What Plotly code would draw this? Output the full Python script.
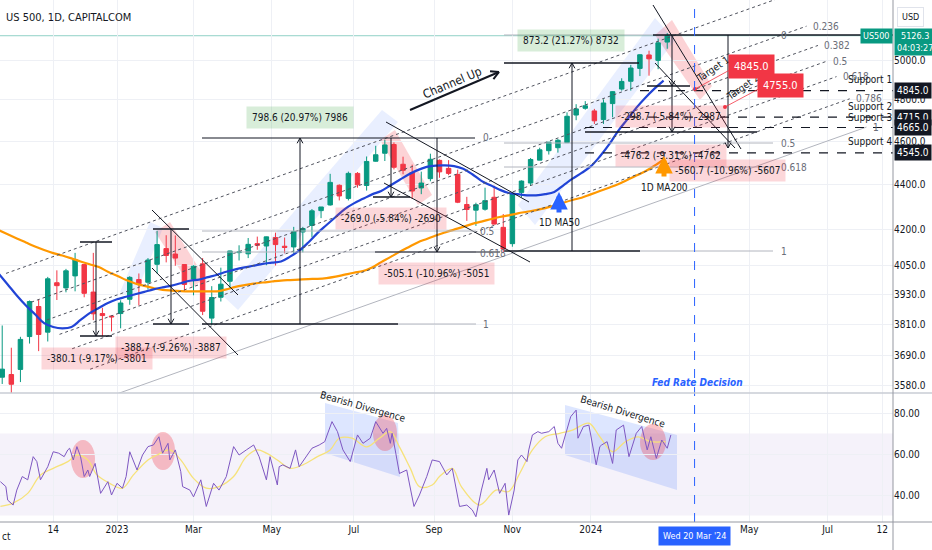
import math
import numpy as np
import pandas as pd
import plotly.graph_objects as go

FONT = "DejaVu Sans Condensed, Liberation Sans Narrow, Roboto Condensed, Liberation Sans, sans-serif"

# ---------------- data ----------------
week_start = pd.date_range("2022-10-03", "2024-02-26", freq="W-MON")  # weekly bars
opens = [3609, 3619, 3638, 3763, 3881, 3780, 3977, 3956, 4005, 4052, 3939, 3853, 3843, 3853, 3910, 3990, 3979, 4053, 4119, 4096,
         4052, 3992, 4055, 3835, 3918, 3983, 4102, 4097, 4140, 4130, 4166, 4129, 4126, 4190, 4218, 4283, 4308, 4396, 4337, 4450,
         4395, 4506, 4543, 4584, 4492, 4454, 4384, 4426, 4510, 4473, 4445, 4310, 4285, 4289, 4342, 4210, 4140, 4364, 4406, 4511,
         4555, 4569, 4593, 4725, 4758, 4745, 4703, 4781, 4853, 4892, 4957, 5026, 4998, 5093]
highs = [3806, 3720, 3762, 3905, 3911, 4001, 4028, 4034, 4101, 4052, 4101, 3876, 3846, 3906, 4004, 4015, 4079, 4195, 4176, 4175,
         4053, 4049, 4079, 3963, 4039, 4110, 4133, 4164, 4170, 4170, 4187, 4166, 4212, 4212, 4290, 4299, 4448, 4400, 4458, 4456,
         4528, 4578, 4607, 4594, 4527, 4490, 4458, 4541, 4514, 4511, 4467, 4344, 4318, 4385, 4394, 4268, 4366, 4418, 4521, 4569,
         4595, 4610, 4738, 4778, 4793, 4755, 4802, 4842, 4907, 4975, 5030, 5048, 5111, 5140]
lows = [3584, 3491, 3591, 3736, 3707, 3744, 3907, 3938, 3942, 3918, 3827, 3764, 3783, 3795, 3888, 3885, 3949, 4015, 4061, 4047,
        3944, 3926, 3847, 3808, 3901, 3952, 4069, 4079, 4114, 4049, 4048, 4099, 4098, 4103, 4167, 4250, 4305, 4328, 4328, 4385,
        4372, 4504, 4507, 4468, 4446, 4335, 4356, 4414, 4430, 4442, 4316, 4238, 4216, 4283, 4223, 4104, 4127, 4342, 4393, 4511,
        4537, 4546, 4591, 4700, 4751, 4682, 4682, 4714, 4845, 4845, 4918, 4920, 4953, 5058]
closes = [3639, 3583, 3752, 3901, 3771, 3993, 3965, 4026, 4072, 3934, 3852, 3845, 3840, 3895, 3999, 3973, 4071, 4136, 4090, 4079,
          3970, 4045, 3862, 3917, 3971, 4109, 4105, 4137, 4133, 4169, 4136, 4124, 4192, 4205, 4282, 4299, 4409, 4348, 4450, 4398,
          4505, 4536, 4582, 4478, 4464, 4370, 4406, 4515, 4457, 4450, 4320, 4288, 4309, 4327, 4224, 4117, 4358, 4415, 4514, 4559,
          4595, 4604, 4719, 4755, 4770, 4697, 4784, 4840, 4891, 4959, 5027, 5006, 5089, 5126]
ma50 = [4015, 3970, 3925, 3885, 3850, 3815, 3800, 3795, 3800, 3828, 3855, 3875, 3895, 3910, 3920, 3930, 3940, 3950, 3958, 3965,
        3975, 3985, 3990, 4000, 4010, 4022, 4032, 4040, 4047, 4055, 4060, 4065, 4085, 4110, 4145, 4185, 4220, 4255, 4290, 4315,
        4335, 4355, 4370, 4395, 4420, 4445, 4465, 4480, 4486, 4487, 4483, 4471, 4446, 4416, 4396, 4376, 4361, 4356, 4351, 4351,
        4356, 4366, 4396, 4426, 4452, 4482, 4528, 4583, 4648, 4703, 4760, 4810, 4855, 4895]
ma200 = [4198, 4180, 4162, 4145, 4128, 4113, 4100, 4090, 4078, 4065, 4053, 4042, 4022, 4006, 3988, 3974, 3964, 3955, 3948, 3945,
         3943, 3942, 3942, 3942, 3942, 3950, 3960, 3967, 3973, 3978, 3982, 3986, 3988, 3990, 3992, 3993, 3996, 4002, 4010, 4018,
         4025, 4040, 4062, 4083, 4105, 4125, 4145, 4160, 4175, 4188, 4200, 4212, 4225, 4235, 4245, 4255, 4262, 4271, 4278, 4285,
         4294, 4305, 4318, 4330, 4340, 4355, 4370, 4385, 4401, 4420, 4440, 4460, 4485, 4515]

# RSI(14): trading-day index since 3 Oct 2022, value
rsi_day = [1, 4, 5, 8, 10, 13, 16, 19, 21, 23, 27, 30, 33, 36, 38, 39, 41, 43, 45, 47, 49, 50, 53, 56, 60, 62, 65, 68, 70, 72,
           76, 79, 82, 85, 88, 90, 93, 94, 97, 100, 101, 105, 107, 111, 114, 118, 121, 125, 129, 132, 136, 140, 143, 147, 149,
           153, 154, 156, 160, 163, 165, 169, 172, 176, 179, 183, 186, 189, 193, 197, 200, 204, 207, 211, 213, 215, 216, 218,
           220, 224, 228, 231, 235, 238, 242, 246, 249, 253, 257, 260, 262, 265, 268, 269, 272, 275, 278, 280, 283, 285, 287,
           290, 291, 293, 296, 298, 302, 305, 307, 309, 311, 314, 317, 318, 321, 324, 328, 330, 331, 334, 337, 339, 343, 346,
           350, 353, 356, 358, 361, 364, 367, 369]
rsi_val = [46.5, 44.1, 37.5, 35.1, 42.4, 49.0, 47.4, 58.7, 56.3, 47.4, 53.8, 61.1, 60.4, 58.7, 62.0, 62.8, 57.1, 63.6, 58.7, 49.0,
           52.2, 49.0, 55.4, 40.8, 46.5, 40.0, 45.7, 43.3, 49.0, 61.1, 52.2, 59.5, 63.6, 64.4, 68.4, 60.4, 65.2, 57.1, 62.0, 51.4,
           44.1, 42.4, 39.1, 47.4, 34.4, 45.7, 42.4, 49.0, 63.6, 59.5, 62.0, 64.4, 58.7, 47.4, 58.7, 44.9, 53.8, 54.7, 53.0, 62.0,
           53.8, 58.7, 62.8, 64.4, 66.0, 75.8, 70.9, 62.0, 56.3, 69.3, 65.2, 67.7, 75.8, 70.1, 72.5, 65.2, 70.1, 60.4, 50.5, 52.2,
           34.4, 40.0, 49.0, 57.1, 56.3, 49.8, 53.0, 34.4, 35.1, 32.7, 29.4, 42.4, 53.0, 47.4, 52.2, 40.8, 45.7, 30.2, 42.4, 57.1,
           59.5, 56.3, 62.0, 69.3, 70.9, 70.1, 70.9, 73.4, 65.2, 62.8, 69.3, 78.2, 81.4, 67.7, 73.4, 74.1, 54.7, 63.6, 64.4, 66.0,
           55.4, 71.7, 74.1, 58.7, 70.1, 73.4, 62.0, 68.4, 57.9, 66.8, 62.8, 69.3]
rsi_ma_day = [1, 8, 16, 23, 30, 38, 43, 49, 54, 61, 68, 74, 82, 87, 94, 100, 107, 114, 121, 129, 136, 142, 147, 153, 160, 167,
              175, 182, 187, 194, 202, 209, 215, 220, 226, 231, 238, 242, 249, 254, 264, 273, 280, 286, 293, 300, 308, 315, 324,
              330, 337, 344, 351, 358, 366]
rsi_ma_val = [34.4, 36.0, 40.8, 49.8, 53.0, 56.3, 59.5, 57.1, 49.8, 45.7, 43.3, 49.8, 57.1, 59.5, 62.0, 57.1, 48.1, 43.3, 44.1,
              49.0, 58.7, 62.0, 60.4, 57.1, 53.0, 54.7, 58.7, 62.0, 67.7, 67.7, 63.5, 67.7, 70.9, 63.5, 53.0, 44.1, 44.9, 49.0,
              53.0, 44.1, 35.1, 42.4, 41.7, 50.5, 62.0, 68.4, 70.1, 71.7, 75.0, 68.4, 61.1, 66.0, 68.4, 66.0, 66.0]

price_ticks = [3580, 3690, 3810, 3930, 4050, 4200, 4400, 4600, 4800, 5000]
rsi_ticks = [40, 60, 80]
x_tick_dates = ["2022-11-14", "2023-01-02", "2023-03-01", "2023-05-01", "2023-07-03", "2023-09-01", "2023-11-01",
                "2024-01-01", "2024-05-01", "2024-07-01", "2024-08-12"]
x_tick_text = ["14", "2023", "Mar", "May", "Jul", "Sep", "Nov", "2024", "May", "Jul", "12"]
support_levels = [4845.0, 4715.0, 4665.0, 4545.0]
last_price = 5126.3

ORIGIN = "2022-10-03"
def day_index(d):
    return int(np.busday_count(ORIGIN, np.datetime64(str(d)[:10], "D")))

week_idx = [day_index(d) for d in week_start]
candle_x = [i + 2 for i in week_idx]
tick_idx = [day_index(d) for d in x_tick_dates]
fed_idx = day_index("2024-03-20")

# ---------------- helpers: drawing positions (pixel reads -> data space) ----------------
def X(px): return 65 + (px - 117) / 1.822
def P(py): return 5000 * math.exp(-(py - 60) / 973)
def R(py): return 80 - (py - 413) / 2.05
def LY(py): return math.log10(P(py))

PLOT_H = 522.0
PANE_SPLIT = 393.0
shapes, annos = [], []

def yv(py, pane):
    return P(py) if pane == "p" else R(py)

def seg(x0, y0, x1, y1, color="#131722", width=1, dash="solid", pane="p", layer="above"):
    shapes.append(dict(type="line", xref="x", yref="y" if pane == "p" else "y2",
                       x0=X(x0), y0=yv(y0, pane), x1=X(x1), y1=yv(y1, pane),
                       line=dict(color=color, width=width, dash=dash), layer=layer))

def chevron(x, y, dx, dy, size=6, color="#131722", width=1, pane="p"):
    n = math.hypot(dx, dy); ux, uy = dx / n, dy / n
    for a in (0.5, -0.5):
        ca, sa = math.cos(a), math.sin(a)
        bx = -(ux * ca - uy * sa); by = -(ux * sa + uy * ca)
        seg(x, y, x + bx * size, y + by * size, color=color, width=width, pane=pane)

def poly(pts, fill, pane="p", layer="below"):
    path = "M " + " L ".join(f"{X(a)},{yv(b, pane)}" for a, b in pts) + " Z"
    shapes.append(dict(type="path", xref="x", yref="y" if pane == "p" else "y2", path=path,
                       fillcolor=fill, line=dict(width=0), layer=layer))

def ellipse(cx, cy, rx, ry, fill, pane="p", layer="below"):
    shapes.append(dict(type="circle", xref="x", yref="y" if pane == "p" else "y2",
                       x0=X(cx - rx), x1=X(cx + rx), y0=yv(cy + ry, pane), y1=yv(cy - ry, pane),
                       fillcolor=fill, line=dict(width=0), layer=layer))

def text(px, py, t, size=10, color="#131722", bg=None, pane="p", angle=0, xanchor="center", pad=1, bold=False):
    if bold:
        t = "<b>" + t + "</b>"
    annos.append(dict(x=X(px), y=(LY(py) if pane == "p" else R(py)), xref="x", yref="y" if pane == "p" else "y2",
                      text=t, showarrow=False, textangle=angle, xanchor=xanchor, yanchor="middle",
                      font=dict(size=size, color=color, family=FONT),
                      bgcolor=bg if bg else "rgba(0,0,0,0)", borderpad=pad))

DARK = "#131722"
GRAYL = "#b2b5be"
LBL = "#6a6d78"
PINK = "rgba(242,54,69,0.20)"
GREEN = "rgba(76,175,80,0.22)"
HL_PINK = "rgba(242,54,69,0.22)"
HL_BLUE = "rgba(41,98,255,0.10)"

# ---- highlighter strokes on price ----
poly([(155, 232), (170, 222), (205, 278), (192, 288)], HL_PINK)
poly([(380, 140), (395, 130), (432, 195), (418, 205)], HL_PINK)
poly([(655, 35), (672, 20), (712, 86), (700, 100)], HL_PINK)
poly([(120, 292), (150, 222), (163, 228), (134, 298)], HL_BLUE)
poly([(222, 295), (382, 110), (398, 122), (238, 310)], HL_BLUE)
poly([(518, 205), (655, 18), (675, 40), (535, 225)], HL_BLUE)

# ---- fib channel (parallel rising lines) ----
ch_levels = [0, 0.236, 0.382, 0.5, 0.618, 0.786, 1]
def ch_y(L, px): return 26 + 160 * (L - 0.236) + 0.356 * (807 - px)
for L in ch_levels:
    xs, xe = 6 + 107 * L, 788 + 78.5 * L
    if L == 1:
        seg(xs, ch_y(L, xs), xe, ch_y(L, xe), color=GRAYL, width=1)
    else:
        seg(xs, ch_y(L, xs), xe, ch_y(L, xe), color="#50535e", width=1, dash="dot")
    if L > 0:
        text(xe + 4, ch_y(L, xe), ("%g" % L), size=10, color=LBL, xanchor="left")

# ---- falling channel lines ----
for (a, b, c, d) in [(152, 210, 238, 295), (152, 268, 238, 355), (386, 122, 529, 202), (384, 183, 530, 262),
                     (653, 5, 741, 149), (655, 63, 735, 148)]:
    seg(a, b, c, d, color=DARK, width=1)

# ---- fib retracement 2023 ----
seg(202, 138, 475, 138, color=DARK, width=1.2)
seg(202, 231, 476, 231, color=GRAYL)
seg(202, 252, 476, 252, color=GRAYL)
seg(375, 252, 500, 252, color=DARK)
seg(202, 324, 398, 324, color=DARK, width=1.5)
seg(398, 324, 476, 324, color=GRAYL)
text(481, 137, "0", color=LBL, xanchor="left")
text(478, 231, "0.5", color=LBL, xanchor="left")
text(478, 253, "0.618", color=LBL, xanchor="left")
text(481, 324, "1", color=LBL, xanchor="left")

# ---- fib retracement 2023-24 ----
seg(504, 35, 653, 35, color=GRAYL)
seg(653, 35, 893, 35, color=DARK, width=1.5)
seg(504, 143, 773, 143, color=GRAYL)
seg(504, 167, 773, 167, color=GRAYL)
seg(504, 251, 640, 251, color=DARK, width=1.5)
seg(640, 251, 773, 251, color=GRAYL)
text(779, 35, "0", color=LBL, xanchor="left")
text(779, 143, "0.5", color=LBL, xanchor="left")
text(779, 167, "0.618", color=LBL, xanchor="left")
text(779, 251, "1", color=LBL, xanchor="left")

# ---- price range measures ----
seg(80, 242, 112, 242, width=1.5); seg(80, 336, 112, 336, width=1.5); seg(96, 242, 96, 336); chevron(96, 336, 0, 1)
seg(153, 229, 189, 229, width=1.5); seg(153, 324, 189, 324, width=1.5); seg(171, 229, 171, 324); chevron(171, 324, 0, 1)
seg(300, 324, 300, 138); chevron(300, 138, 0, -1)
seg(373, 197, 410, 197, width=1.5); seg(391, 138, 391, 197); chevron(391, 197, 0, 1)
seg(437, 138, 437, 252); chevron(437, 252, 0, 1)
seg(504, 63, 639, 63, width=1.5); seg(572, 251, 572, 63); chevron(572, 63, 0, -1)
seg(647, 86, 690, 86, width=1.5); seg(585, 132, 757, 132, width=1.5); seg(672, 35, 672, 132)
chevron(672, 86, 0, 1); chevron(672, 132, 0, 1)
seg(728, 35, 728, 148); chevron(728, 148, 0, 1)

text(97, 358, "-380.1 (-9.17%) -3801", size=10, bg=PINK, pad=5)
text(171, 347, "-388.7 (-9.26%) -3887", size=10, bg=PINK, pad=5)
text(300, 117, "798.6 (20.97%) 7986", size=10, bg=GREEN, pad=5)
text(391, 218, "-269.0 (-5.84%) -2690", size=10, bg=PINK, pad=5)
text(436, 273, "-505.1 (-10.96%) -5051", size=10, bg=PINK, pad=5)
text(571, 40, "873.2 (21.27%) 8732", size=10, bg=GREEN, pad=5)
text(671, 116, "-298.7 (-5.84%) -2987", size=10, bg=PINK, pad=5)
text(671, 155, "-476.2 (-9.31%) -4762", size=10, bg=PINK, pad=5)
text(727, 170, "-560.7 (-10.96%) -5607", size=10, bg=PINK, pad=5)

# ---- supports ----
for lvl, x0 in zip(support_levels, [640, 630, 585, 585]):
    shapes.append(dict(type="line", xref="x", yref="y", x0=X(x0), x1=X(893), y0=lvl, y1=lvl,
                       line=dict(color=DARK, width=1.2, dash="dash"), layer="above"))
for i, py in enumerate([79, 106, 117, 141]):
    text(870, py, "Support %d" % (i + 1), size=10, color=DARK)

# ---- targets ----
seg(695, 89, 737, 66, color="rgba(242,54,69,0.8)")
seg(725, 107, 766, 85, color="rgba(242,54,69,0.8)")
ellipse(695, 89, 2, 2, "#f23645", layer="above")
ellipse(725, 107, 2, 2, "#f23645", layer="above")
text(712, 69, "Target 1", size=10, angle=-34)
text(742, 87, "Target 2", size=10, angle=-35)
text(751, 66, "4845.0", size=11, color="white", bg="#f23645", pad=5)
text(780, 85, "4755.0", size=11, color="white", bg="#f23645", pad=5)

# ---- channel up label + arrow ----
text(452, 83, "Channel Up", size=12, angle=-23)
seg(410, 110, 499, 72, width=2)
chevron(499, 72, 89, -38, size=9, width=2)

# ---- MA arrows ----
annos.append(dict(x=X(559), y=LY(192), xref="x", yref="y", ax=0, ay=22, text="", showarrow=True,
                  arrowhead=2, arrowsize=0.7, arrowwidth=5, arrowcolor="#2962ff"))
text(559, 222, "1D MA50", size=10)
annos.append(dict(x=X(664), y=LY(156), xref="x", yref="y", ax=0, ay=22, text="", showarrow=True,
                  arrowhead=2, arrowsize=0.7, arrowwidth=5, arrowcolor="#ff9800"))
text(664, 187, "1D MA200", size=10)

# ---- Fed line ----
shapes.append(dict(type="line", xref="x", yref="paper", x0=fed_idx, x1=fed_idx, y0=0, y1=1,
                   line=dict(color="#2962ff", width=1, dash="dash"), layer="above"))
text(697, 382, "<i>Fed Rate Decision</i>", size=10, color="#2962ff", bold=True)

# ---- current price line ----
shapes.append(dict(type="line", xref="paper", yref="y", x0=0, x1=1, y0=last_price, y1=last_price,
                   line=dict(color="rgba(8,153,129,0.45)", width=1), layer="below"))

# ---- RSI pane decorations ----
shapes.append(dict(type="rect", xref="paper", yref="y2", x0=0, x1=1, y0=30, y1=70,
                   fillcolor="rgba(126,87,194,0.08)", line=dict(width=0), layer="below"))
poly([(325, 403), (398, 423), (400, 477), (325, 453)], "rgba(41,98,255,0.16)", pane="r")
poly([(565, 405), (677, 435), (677, 490), (565, 455)], "rgba(41,98,255,0.16)", pane="r")
ellipse(83, 459, 12, 19, "rgba(242,54,69,0.30)", pane="r")
ellipse(163, 451, 12, 19, "rgba(242,54,69,0.30)", pane="r")
ellipse(385, 433, 12, 18, "rgba(242,54,69,0.30)", pane="r")
ellipse(653, 442, 13, 18, "rgba(242,54,69,0.30)", pane="r")
text(363, 406, "Bearish Divergence", size=10, pane="r", angle=16)
text(623, 411, "Bearish Divergence", size=10, pane="r", angle=17)

# ---- frame lines ----
split = 1 - PANE_SPLIT / PLOT_H
shapes.append(dict(type="line", xref="paper", yref="paper", x0=0, x1=932 / 893, y0=split, y1=split,
                   line=dict(color="#c9ccd4", width=1.5)))
shapes.append(dict(type="line", xref="paper", yref="paper", x0=0, x1=932 / 893, y0=0, y1=0,
                   line=dict(color="#9598a1", width=1)))
shapes.append(dict(type="line", xref="paper", yref="paper", x0=1, x1=1, y0=-28 / PLOT_H, y1=1,
                   line=dict(color="#9598a1", width=1)))

# ---- axis-side labels ----
annos.append(dict(xref="paper", yref="paper", x=0.005, y=1 - 17 / PLOT_H, xanchor="left", yanchor="middle",
                  text="US 500, 1D, CAPITALCOM", showarrow=False, font=dict(size=11, color=DARK, family=FONT)))
annos.append(dict(xref="paper", yref="paper", x=1.005, y=1 - 17 / PLOT_H, xanchor="left", yanchor="middle",
                  text="USD", showarrow=False, font=dict(size=9, color=DARK, family=FONT),
                  bordercolor="#e0e3eb", borderwidth=1, borderpad=4, bgcolor="white"))
for lvl in support_levels:
    annos.append(dict(xref="paper", yref="y", x=1.001, y=math.log10(lvl), xanchor="left", yanchor="middle",
                      text="%.1f" % lvl, showarrow=False, font=dict(size=10, color="white", family=FONT),
                      bgcolor="#131722", borderpad=2))
annos.append(dict(xref="paper", yref="y", x=1.0, y=math.log10(last_price), xanchor="right", yanchor="middle",
                  text="US500", showarrow=False, font=dict(size=9, color="white", family=FONT),
                  bgcolor="#089981", borderpad=2))
annos.append(dict(xref="paper", yref="y", x=1.001, y=math.log10(last_price), xanchor="left", yanchor="top",
                  yshift=8, text="%.1f<br>04:03:27" % last_price, showarrow=False,
                  font=dict(size=9, color="white", family=FONT), bgcolor="#089981", borderpad=2))
annos.append(dict(xref="x", yref="paper", x=fed_idx, y=-14 / PLOT_H, xanchor="center", yanchor="middle",
                  text="Wed 20 Mar '24", showarrow=False, font=dict(size=9, color="white", family=FONT),
                  bgcolor="#2962ff", borderpad=4))
annos.append(dict(xref="paper", yref="paper", x=0.0, y=-14 / PLOT_H, xanchor="left", yanchor="middle",
                  text="ct", showarrow=False, font=dict(size=10, color=DARK, family=FONT)))

# ---------------- traces ----------------
fig = go.Figure()
fig.add_trace(go.Candlestick(x=candle_x, open=opens, high=highs, low=lows, close=closes,
                             increasing=dict(line=dict(color="#089981", width=1), fillcolor="#089981"),
                             decreasing=dict(line=dict(color="#f23645", width=1), fillcolor="#f23645"),
                             whiskerwidth=0, xaxis="x", yaxis="y", showlegend=False, hoverinfo="skip"))
fig.add_trace(go.Scatter(x=week_idx, y=ma200, mode="lines", line=dict(color="#ff9800", width=2.2, shape="spline"),
                         xaxis="x", yaxis="y", showlegend=False, hoverinfo="skip"))
fig.add_trace(go.Scatter(x=week_idx, y=ma50, mode="lines", line=dict(color="#2144d6", width=2.2, shape="spline"),
                         xaxis="x", yaxis="y", showlegend=False, hoverinfo="skip"))
fig.add_trace(go.Scatter(x=rsi_ma_day, y=rsi_ma_val, mode="lines", line=dict(color="#f6e27a", width=1.3, shape="spline"),
                         xaxis="x", yaxis="y2", showlegend=False, hoverinfo="skip"))
fig.add_trace(go.Scatter(x=rsi_day, y=rsi_val, mode="lines", line=dict(color="#7e57c2", width=1),
                         xaxis="x", yaxis="y2", showlegend=False, hoverinfo="skip"))

GRID = "#eef0f5"
fig.update_layout(
    width=932, height=550, margin=dict(l=0, r=39, t=0, b=28),
    paper_bgcolor="white", plot_bgcolor="white", showlegend=False,
    font=dict(family=FONT, size=10, color=DARK),
    xaxis=dict(domain=[0, 1], anchor="y2", range=[X(0), X(893)], tickmode="array", tickvals=tick_idx,
               ticktext=x_tick_text, showgrid=True, gridcolor=GRID, zeroline=False, showline=False, ticks="",
               tickfont=dict(size=10, color=DARK), rangeslider=dict(visible=False), fixedrange=True),
    yaxis=dict(domain=[1 - PANE_SPLIT / PLOT_H, 1], anchor="x", type="log", side="right",
               range=[LY(PANE_SPLIT), LY(0)], tickmode="array", tickvals=price_ticks,
               ticktext=["%.1f" % v for v in price_ticks], showgrid=True, gridcolor=GRID, zeroline=False,
               showline=False, ticks="", tickfont=dict(size=10, color=DARK)),
    yaxis2=dict(domain=[0, 1 - PANE_SPLIT / PLOT_H], anchor="x", side="right", range=[R(PLOT_H), R(PANE_SPLIT)],
                tickmode="array", tickvals=rsi_ticks, ticktext=["%.2f" % v for v in rsi_ticks], showgrid=True,
                gridcolor=GRID, zeroline=False, showline=False, ticks="", tickfont=dict(size=10, color=DARK)),
    shapes=shapes, annotations=annos,
)
fig.write_html("out.html", config={"displayModeBar": False},
               post_script="document.body.style.margin='0px';document.body.style.overflow='hidden';")
